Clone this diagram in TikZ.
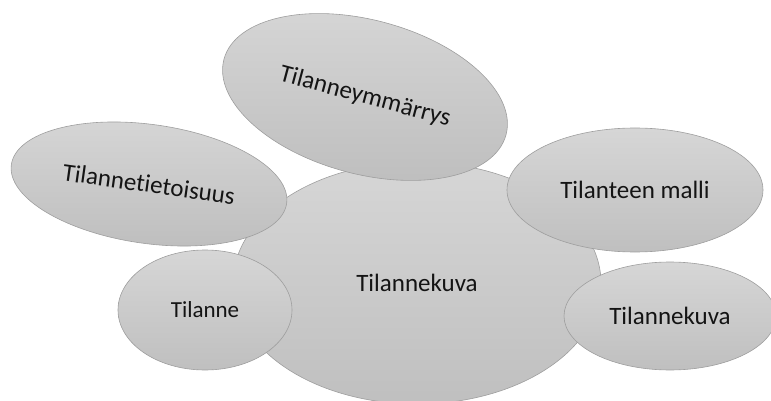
\documentclass[tikz,border=0pt]{standalone}
\usepackage{fontspec}
\setmainfont{Carlito}[Ligatures={NoCommon,NoContextual}]
\usetikzlibrary{shapes.geometric}
\begin{document}
\begin{tikzpicture}[x=1pt,y=-1pt,
  bubble/.style={ellipse, draw=black!38, line width=0.6pt,
    top color=black!16, bottom color=black!25, text=black!92,
    inner sep=0pt, font=\fontsize{25}{30}\selectfont},
  smallbubble/.style={bubble, font=\fontsize{23}{28}\selectfont}]
  \useasboundingbox (0,0) rectangle (771,401);
  \clip (0,0) rectangle (771,401);
  % central picture, drawn first so the others overlap it
  \node[bubble, minimum width=368pt, minimum height=242pt] (kuva) at (417,283) {Tilannekuva};
  \node[bubble, minimum width=292pt, minimum height=154pt, rotate=-15] (ymmarrys) at (365,97) {Tilanneymmärrys};
  \node[bubble, minimum width=278pt, minimum height=119pt, rotate=-8] (tietoisuus) at (149,184) {Tilannetietoisuus};
  \node[bubble, minimum width=256pt, minimum height=124pt] (malli) at (635,190) {Tilanteen malli};
  \node[smallbubble, minimum width=174pt, minimum height=120pt] (tilanne) at (205,310) {Tilanne};
  \node[bubble, minimum width=212pt, minimum height=108pt] (kuva2) at (670,316) {Tilannekuva};
\end{tikzpicture}
\end{document}
